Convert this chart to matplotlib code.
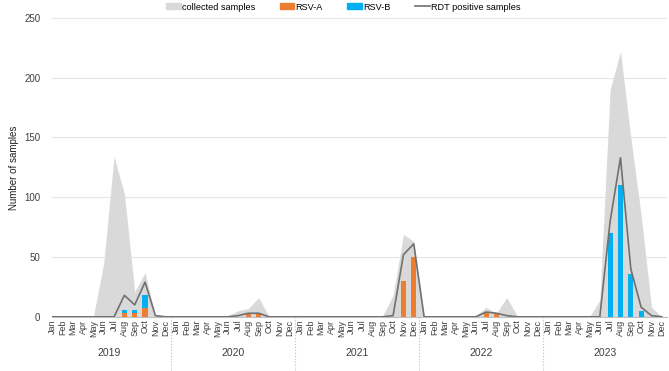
import matplotlib
matplotlib.use('Agg')
import matplotlib.pyplot as plt
import numpy as np
from matplotlib.lines import Line2D
from matplotlib.patches import Patch

plt.rcParams['font.family'] = ['Liberation Sans', 'DejaVu Sans']

years = ['2019', '2020', '2021', '2022', '2023']
months = ['Jan', 'Feb', 'Mar', 'Apr', 'May', 'Jun', 'Jul', 'Aug', 'Sep', 'Oct', 'Nov', 'Dec']

# monthly counts, Jan 2019 .. Dec 2023
collected = [0, 0, 0, 0, 0, 45, 134, 103, 21, 37, 1, 0,
             0, 0, 0, 0, 0, 1, 5, 7, 16, 0, 0, 0,
             0, 0, 0, 0, 0, 0, 0, 0, 1, 18, 69, 63,
             0, 0, 0, 0, 0, 1, 8, 3, 16, 1, 0, 0,
             0, 0, 0, 0, 0, 14, 190, 222, 150, 85, 8, 0]
rsv_a = [0, 0, 0, 0, 0, 0, 0, 3, 3, 7, 0, 0,
         0, 0, 0, 0, 0, 0, 0, 3, 3, 0, 0, 0,
         0, 0, 0, 0, 0, 0, 0, 0, 0, 0, 30, 50,
         0, 0, 0, 0, 0, 0, 3, 3, 0, 0, 0, 0,
         0, 0, 0, 0, 0, 0, 0, 0, 0, 0, 0, 0]
rsv_b = [0, 0, 0, 0, 0, 0, 0, 3, 3, 11, 0, 0,
         0, 0, 0, 0, 0, 0, 0, 0, 0, 0, 0, 0,
         0, 0, 0, 0, 0, 0, 0, 0, 0, 0, 0, 0,
         0, 0, 0, 0, 0, 0, 0, 0, 0, 0, 0, 0,
         0, 0, 0, 0, 0, 0, 70, 110, 36, 5, 0, 0]
rdt_pos = [0, 0, 0, 0, 0, 0, 0, 18, 10, 29, 1, 0,
           0, 0, 0, 0, 0, 0, 1, 3, 3, 0, 0, 0,
           0, 0, 0, 0, 0, 0, 0, 0, 0, 1, 52, 61,
           0, 0, 0, 0, 0, 0, 4, 3, 1, 0, 0, 0,
           0, 0, 0, 0, 0, 0, 80, 133, 40, 8, 1, 0]

x = np.arange(len(collected))
tick_labels = months * len(years)

fig = plt.figure(figsize=(6.69, 3.71), dpi=100)
ax = fig.add_axes([0.077, 0.146, 0.92, 0.806])

ax.fill_between(x, collected, color='#d9d9d9', linewidth=0, zorder=1)
ax.bar(x, rsv_a, width=0.5, color='#ED7D31', zorder=2)
ax.bar(x, rsv_b, width=0.5, bottom=rsv_a, color='#00B0F0', zorder=2)
ax.plot(x, rdt_pos, color='#707070', linewidth=1.2, zorder=3)

ax.set_xlim(-0.05, 59.5)
ax.set_ylim(0, 250)
ax.set_yticks(np.arange(0, 251, 50))
ax.yaxis.grid(True, color='#e6e6e6', linewidth=0.8)
ax.set_axisbelow(True)
for s in ['left', 'right', 'top']:
    ax.spines[s].set_visible(False)
ax.spines['bottom'].set_color('#bfbfbf')
ax.spines['bottom'].set_linewidth(0.8)

ax.set_xticks(x)
ax.set_xticklabels(tick_labels, rotation=90, fontsize=6.5, color='#404040')
ax.tick_params(axis='x', length=0, pad=2)
ax.tick_params(axis='y', length=0, labelsize=7, colors='#404040', pad=8)
ax.set_ylabel('Number of samples', fontsize=7, color='#202020', labelpad=4)

# year labels and separators below the axis
for i, yr in enumerate(years):
    ax.text(i * 12 + 5.5, -0.12, yr, transform=ax.get_xaxis_transform(),
            ha='center', va='center', fontsize=7.5, color='#404040')
    if i > 0:
        ax.add_line(Line2D([i * 12 - 0.5, i * 12 - 0.5], [0, -0.19],
                           transform=ax.get_xaxis_transform(), clip_on=False,
                           color='#bfbfbf', linewidth=0.8, linestyle=':'))

handles = [Patch(color='#d9d9d9', label='collected samples'),
           Patch(color='#ED7D31', label='RSV-A'),
           Patch(color='#00B0F0', label='RSV-B'),
           Line2D([0], [0], color='#707070', linewidth=1.2, label='RDT positive samples')]
fig.legend(handles=handles, loc='center', bbox_to_anchor=(0.513, 0.981), ncol=4,
           frameon=False, fontsize=6.6, handlelength=1.6, handleheight=0.6,
           columnspacing=2.7, handletextpad=0.1)

fig.savefig('out.png', dpi=100)
